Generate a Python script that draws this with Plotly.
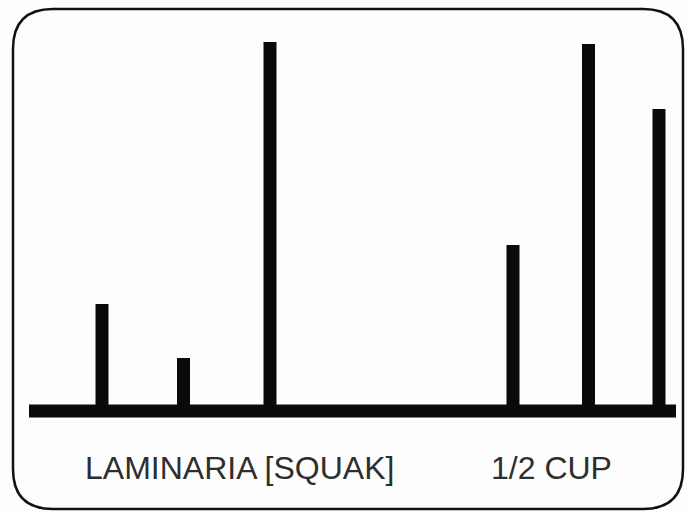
import plotly.graph_objects as go

# Peak positions (arbitrary position units along the trace) and peak heights
peak_positions = [10.2, 18.35, 27.0, 51.3, 58.85, 65.9]
peak_heights = [107, 53, 369, 166, 367, 302]
label_left = "LAMINARIA [SQUAK]"
label_right = "1/2 CUP"

W, H = 687, 514

fig = go.Figure()
fig.add_trace(go.Bar(
    x=peak_positions,
    y=peak_heights,
    width=1.3,
    marker=dict(color="#0a0a0a", line=dict(width=0)),
    hoverinfo="skip",
))

# baseline
fig.add_shape(type="line", xref="x", yref="y",
              x0=2.9, x1=67.6, y0=0, y1=0,
              line=dict(color="#0a0a0a", width=13))

# rounded border (paper coordinates)
L, R, T, B = 13 / W, 683 / W, 1 - 9 / H, 1 - 509 / H
rx, ry = 40 / W, 40 / H
path = (f"M {L+rx},{T} L {R-rx},{T} Q {R},{T} {R},{T-ry} "
        f"L {R},{B+ry} Q {R},{B} {R-rx},{B} "
        f"L {L+rx},{B} Q {L},{B} {L},{B+ry} "
        f"L {L},{T-ry} Q {L},{T} {L+rx},{T} Z")
fig.add_shape(type="path", xref="paper", yref="paper", path=path,
              line=dict(color="#111111", width=2.5), fillcolor="rgba(0,0,0,0)")

font = dict(family="Liberation Sans, Arial, sans-serif", size=32, color="#2e2e2e")
fig.add_annotation(x=83 / W, y=1 - 468 / H, xref="paper", yref="paper",
                   text=label_left, showarrow=False, xanchor="left", yanchor="middle", font=font)
fig.add_annotation(x=489 / W, y=1 - 468 / H, xref="paper", yref="paper",
                   text=label_right, showarrow=False, xanchor="left", yanchor="middle", font=font)

fig.update_layout(
    width=W, height=H,
    margin=dict(l=0, r=0, t=0, b=0),
    paper_bgcolor="#fdfdfd", plot_bgcolor="rgba(0,0,0,0)",
    showlegend=False,
    xaxis=dict(range=[0, 68.7], visible=False, fixedrange=True),
    yaxis=dict(range=[-103, 411], visible=False, fixedrange=True),
)

fig.write_html("out.html", config={"displayModeBar": False},
               post_script="document.body.style.margin='0';document.body.style.overflow='hidden';")
